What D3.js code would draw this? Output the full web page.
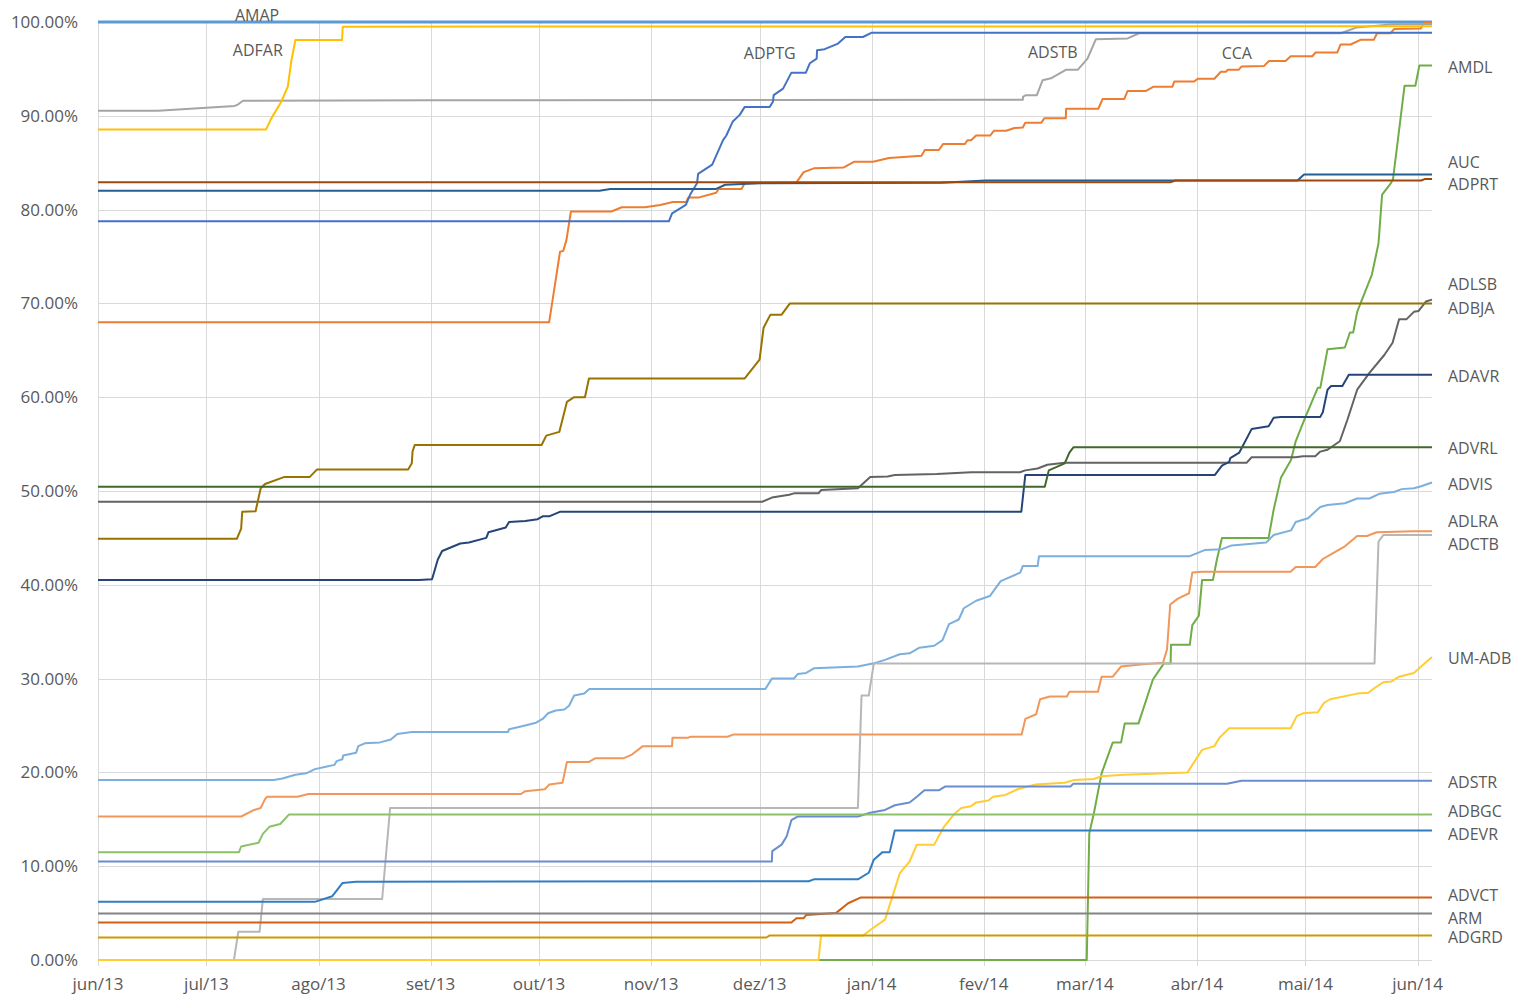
<!DOCTYPE html>
<html><head><meta charset="utf-8">
<script src="https://cdn.jsdelivr.net/npm/d3@7"></script>
<style>
body{margin:0;background:#fff}
svg text{font-family:"Open Sans",sans-serif;font-size:16px;fill:#595959}
svg text.tick{font-size:17px}
</style>
</head><body>
<svg id="chart" width="1528" height="999"></svg>
<script>
// ---------- DATA (x = days since 1 Jun 2013, y = percent) ----------
const startDate = new Date(2013, 5, 1);
const lastDay = 369;
const monthTickLabels = ["jun/13","jul/13","ago/13","set/13","out/13","nov/13","dez/13","jan/14","fev/14","mar/14","abr/14","mai/14","jun/14"];
const valueTicks = [0,10,20,30,40,50,60,70,80,90,100];

const seriesNames = ["AMAP","CCA","ADSTB","ADFAR","ADPTG","AMDL","AUC","ADPRT","ADLSB","ADBJA","ADAVR","ADVRL","ADVIS","ADLRA","ADCTB","UM-ADB","ADSTR","ADBGC","ADEVR","ADVCT","ARM","ADGRD"];

const AMAP = [[0,100],[369,100]];
const CCA = [[0,68],[124.8,68],[127.8,75.5],[128.7,75.6],[129.6,76.8],[130.8,79.8],[142,79.8],[144.9,80.25],[151.3,80.25],[155.5,80.5],[159,80.8],[162.7,80.8],[163.3,81.3],[166.3,81.3],[171,81.8],[171.7,82.2],[178,82.2],[178.9,82.8],[193.2,82.9],[195.2,84.0],[198,84.4],[206.3,84.5],[209.1,85.1],[214.4,85.1],[218.8,85.5],[227.8,85.75],[228.7,86.35],[232.6,86.35],[233.8,87.0],[239.8,87.0],[240.5,87.4],[241.5,87.4],[242.9,87.9],[246.8,87.9],[247.8,88.4],[251.2,88.4],[253.5,88.7],[255.8,88.75],[256.5,89.25],[260.9,89.25],[261.8,89.75],[267.7,89.75],[267.8,90.75],[276.7,90.75],[277.9,91.8],[283.9,91.8],[284.8,92.65],[289.9,92.65],[292,93.1],[297.2,93.1],[297.7,93.65],[303.2,93.65],[304.2,93.95],[308.8,93.95],[310.6,94.7],[312,94.7],[312.5,94.9],[315.5,94.9],[316.3,95.25],[322.5,95.3],[323.9,95.85],[328.5,95.85],[329.9,96.35],[335.9,96.35],[336.8,96.75],[342.8,96.75],[343.7,97.6],[346.5,97.6],[349.2,98.1],[352.9,98.1],[353.8,98.8],[357.5,98.8],[358.5,99.25],[365.9,99.3],[366.8,99.95],[369,99.95]];
const ADSTB = [[0,90.55],[16.6,90.55],[37.8,91.05],[38.7,91.2],[40.1,91.6],[92,91.65],[255.8,91.7],[255.9,92.05],[256.7,92.2],[259.7,92.2],[261.3,93.8],[263.6,94.0],[267.7,94.9],[271,94.9],[273.7,96.1],[276,98.15],[284.8,98.25],[288,98.8],[343.8,98.8],[348,99.4],[358,99.75],[369,99.8]];
const ADFAR = [[0,88.55],[46.5,88.55],[47.9,89.7],[50.7,91.5],[52.5,93.1],[53.5,95.9],[54.6,98.08],[67.5,98.08],[67.7,99.5],[369,99.55]];
const ADPTG = [[0,78.75],[157.9,78.75],[158.8,79.6],[162.6,80.5],[163.8,81.6],[165.7,82.8],[166,83.8],[169.9,84.8],[172.9,87.4],[173.8,87.9],[175.6,89.4],[177.5,90.1],[178.9,90.95],[185.8,90.95],[186.7,91.5],[186.9,92.2],[189.5,92.9],[191.8,94.6],[195.8,94.6],[196.9,95.6],[198.8,96.1],[198.9,97.0],[201,97.1],[204.7,97.7],[206.7,98.4],[211.6,98.4],[213.9,98.85],[369,98.85]];
const AMDL = [[0,0],[273.5,0],[274.2,13.5],[275.5,15.7],[277.6,19.9],[280.7,23.2],[283,23.2],[284,25.2],[287.8,25.2],[291.8,29.9],[294.8,31.6],[296.7,31.6],[296.8,33.6],[302,33.6],[302.7,35.7],[304.5,36.7],[305.4,40.5],[308.4,40.5],[309.5,42.7],[310.9,45],[323.8,45],[325.2,48],[327.2,51.4],[330,53.3],[331.3,55.3],[334,57.9],[337.4,61],[338.1,61],[340.1,65.1],[344.9,65.3],[346.3,66.9],[347.2,66.9],[348.3,69.1],[352.4,73.1],[354.2,76.4],[355.2,81.6],[357.6,82.8],[358.2,83.2],[360,88.8],[361.4,93.2],[364.4,93.2],[365.5,95.35],[369,95.35]];
const AUC = [[0,82.0],[138.7,82.0],[141.7,82.2],[171,82.2],[173.5,82.65],[183,82.8],[233.3,82.85],[245.6,83.1],[331.8,83.1],[333.6,83.75],[369,83.75]];
const ADPRT = [[0,82.92],[296.6,82.92],[298,83.1],[366,83.1],[367,83.25],[369,83.25]];
const ADLSB = [[0,48.85],[183.7,48.85],[186.4,49.3],[191.2,49.6],[192.5,49.75],[199.3,49.75],[200,50.1],[210.2,50.3],[213.6,51.5],[218.4,51.55],[220.4,51.7],[232,51.8],[241.5,52.0],[255,52.0],[256.5,52.2],[259.9,52.4],[262.6,52.8],[267.4,53.0],[317.7,53.0],[319.1,53.6],[331.3,53.6],[333.3,53.7],[336.7,53.7],[338.1,54.2],[340.1,54.4],[343.5,55.3],[345.6,57.6],[348.3,60.8],[351.7,62.6],[355.8,64.5],[358.1,65.8],[359.9,68.3],[361.9,68.3],[364,69.1],[365.3,69.2],[367.3,70.2],[369,70.4]];
const ADBJA = [[0,44.9],[38.4,44.9],[39.6,46],[39.9,47.8],[43.6,47.85],[45,50.3],[46.2,50.75],[51.6,51.5],[58.6,51.5],[60.6,52.3],[85.8,52.3],[86.8,52.95],[87,54.2],[87.6,54.9],[122.7,54.9],[124,55.9],[127.6,56.3],[129.7,59.5],[131.7,60],[134.7,60],[135.7,61.8],[135.8,62],[178.9,62],[183,64],[184.1,67.4],[186,68.8],[189.1,68.8],[191.4,70],[369,70]];
const ADAVR = [[0,40.5],[88.8,40.5],[92.4,40.6],[94,42.7],[95.2,43.6],[100.2,44.4],[102.6,44.5],[107.4,45],[108,45.6],[112.8,46.1],[113.7,46.7],[118.2,46.8],[121.6,47],[123,47.3],[124.8,47.3],[127.9,47.8],[255.4,47.8],[256.5,51.7],[308.9,51.7],[310.9,52.7],[312.9,53.1],[313.2,53.5],[315.7,54.1],[319.1,56.6],[323.8,56.9],[325.2,57.8],[327.2,57.9],[338.1,57.9],[338.8,58.4],[340.1,60.8],[341.1,61.2],[344.2,61.2],[346,62.4],[369,62.4]];
const ADVRL = [[0,50.45],[261.9,50.45],[263,52.2],[267.4,52.95],[268.7,54.1],[269.8,54.66],[369,54.66]];
const ADVIS = [[0,19.2],[48.6,19.2],[51,19.35],[54.6,19.75],[57.6,19.9],[60,20.35],[63,20.6],[65.4,20.8],[66,21.2],[67.6,21.4],[67.8,21.8],[71.4,22.1],[72,22.8],[73.8,23.1],[78,23.2],[81,23.5],[82.8,24.1],[86.8,24.3],[113.4,24.3],[113.7,24.6],[117,24.9],[121.2,25.3],[123,25.7],[124.5,26.3],[126.6,26.6],[129,26.7],[130.3,27.1],[131.7,28.2],[134.5,28.4],[135.9,28.9],[184.6,28.9],[186.4,30],[192.5,30],[193.6,30.5],[195.9,30.6],[198,31.1],[210.2,31.3],[214.3,31.6],[217.7,32],[221.8,32.6],[224.5,32.7],[227.2,33.3],[231.3,33.5],[233.6,34.1],[235.4,35.8],[238.1,36.3],[239.5,37.5],[242.9,38.3],[246.7,38.8],[249.7,40.4],[255.1,41.3],[255.8,42],[259.9,42],[260.3,43.05],[302,43.05],[306.1,43.7],[310.9,43.8],[313.6,44.2],[323.1,44.5],[325.2,45.3],[330,45.8],[331.3,46.7],[334.7,47.1],[338.1,48.3],[340.1,48.5],[344.9,48.7],[348.3,49.2],[351.7,49.2],[354.4,49.7],[358.5,49.9],[360.6,50.2],[364,50.3],[366,50.5],[369,50.9]];
const ADLRA = [[0,15.3],[39.6,15.3],[43.2,16],[45,16.2],[46.2,17.15],[46.8,17.4],[55.2,17.4],[58.2,17.7],[117,17.7],[118.2,18],[123.6,18.2],[124.8,18.7],[128.5,18.9],[129.7,21.1],[135.7,21.1],[137.5,21.5],[145.3,21.5],[147.7,21.9],[150.7,22.8],[158.8,22.8],[158.9,23.7],[163.3,23.7],[163.9,23.8],[174.1,23.8],[175.9,24.05],[255.5,24.05],[256.5,25.7],[259.5,26.2],[260.6,27.8],[263.3,28.1],[268,28.1],[268.7,28.6],[276.6,28.6],[277.6,30.2],[280.7,30.2],[283,31.3],[288.4,31.5],[294.6,31.7],[295.7,33.1],[296.6,37.9],[298.6,38.5],[301.8,39.1],[302.7,41.3],[305.4,41.4],[329.9,41.4],[331.3,41.9],[336.7,41.9],[338.8,42.75],[340.8,43.2],[344.9,44.1],[348.3,45.2],[351,45.2],[353.7,45.6],[364,45.7],[369,45.7]];
const ADCTB = [[0,0],[37.6,0],[38.8,3.0],[44.7,3.0],[45.6,6.5],[78.6,6.5],[80.8,16.2],[210.2,16.2],[211.2,28.2],[213.2,28.2],[214.6,31.6],[353.1,31.6],[354.2,44.6],[355.5,45.3],[369,45.3]];
const UM_ADB = [[0,0],[199.3,0],[200,2.6],[211.6,2.6],[213.6,3.2],[217.7,4.3],[221.8,9.25],[224.5,10.5],[226.5,12.3],[231.3,12.3],[234,14.2],[236.7,15.5],[238.8,16.2],[241.5,16.4],[242.9,16.8],[246.3,17],[247.6,17.4],[251,17.6],[254.4,18.2],[259.2,18.7],[267.4,18.9],[270.1,19.2],[275.5,19.3],[277.6,19.6],[283.7,19.75],[291.8,19.85],[301.4,20],[302.7,20.8],[305.4,22.4],[308.8,22.8],[310.2,23.7],[312.9,24.7],[329.9,24.7],[331.6,26],[333.3,26.3],[337.4,26.4],[339.1,27.4],[340.8,27.8],[348.3,28.4],[351.4,28.5],[353.1,29],[355.5,29.6],[357.8,29.7],[359.9,30.2],[364,30.6],[366,31.3],[369,32.3]];
const ADSTR = [[0,10.5],[186.4,10.5],[186.5,11.6],[189.1,12.3],[190.5,13.2],[191.8,14.9],[193.6,15.3],[210.2,15.3],[213.6,15.7],[217.7,16],[220.4,16.5],[224.5,16.8],[226.5,17.4],[228.6,18.1],[232.7,18.1],[234.4,18.5],[269,18.5],[269.8,18.8],[312.3,18.8],[316.3,19.1],[369,19.1]];
const ADBGC = [[0,11.5],[39,11.5],[39.6,12.1],[44.4,12.5],[45.6,13.45],[47.4,14.2],[50.4,14.5],[52.8,15.5],[369,15.5]];
const ADEVR = [[0,6.2],[60,6.2],[64.8,6.8],[66,7.4],[67.6,8.2],[71.4,8.35],[196.6,8.4],[198,8.6],[210.2,8.6],[213.2,9.3],[214.6,10.7],[217,11.5],[219,11.5],[220.4,13.8],[369,13.8]];
const ADVCT = [[0,4.0],[191.8,4.0],[193.2,4.45],[195.2,4.45],[195.9,4.8],[204.1,5.0],[207.5,6.05],[210.9,6.65],[369,6.65]];
const ARM = [[0,4.95],[369,4.95]];
const ADGRD = [[0,2.4],[184.9,2.4],[185.7,2.6],[369,2.6]];

const seriesValues = [AMAP,CCA,ADSTB,ADFAR,ADPTG,AMDL,AUC,ADPRT,ADLSB,ADBJA,ADAVR,ADVRL,ADVIS,ADLRA,ADCTB,UM_ADB,ADSTR,ADBGC,ADEVR,ADVCT,ARM,ADGRD];

// labels drawn inside the plot (anchor day, anchor value)
const topLabelNames = ["AMAP","ADFAR","ADPTG","ADSTB","CCA"];
const topLabelDays = [44.0,44.2,185.8,264.1,315.0];
const topLabelValues = [100.75,97.0,96.7,96.8,96.7];
// series with an end label on the right
const endLabelNames = ["AMDL","AUC","ADPRT","ADLSB","ADBJA","ADAVR","ADVRL","ADVIS","ADLRA","ADCTB","UM-ADB","ADSTR","ADBGC","ADEVR","ADVCT","ARM","ADGRD"];

// ---------- STYLE ----------
const seriesColors = ["#5B9BD5","#ED7D31","#A5A5A5","#FFC000","#4472C4","#70AD47","#255E91","#9E480E","#636363","#997300","#264478","#43682B","#7CAFDD","#F1975A","#B7B7B7","#FFCD33","#698ED0","#8CC168","#327DC2","#D26012","#848484","#CC9A00"];
const endLabelNudge = {"AUC":-14,"ADPRT":3.4,"ADLSB":-17,"ADBJA":3,"ADLRA":-11.8,"ADCTB":7.4,"ADBGC":-4.5,"ADEVR":2,"ADVCT":-3.5,"ARM":3};

// ---------- CHART ----------
const dayToDate = d => new Date(startDate.getTime() + d * 864e5);
const svg = d3.select("#chart");
const plotLeft = 98, plotRight = 1432, plotTop = 22, plotBottom = 960;
const x = d3.scaleTime().domain([startDate, dayToDate(lastDay)]).range([plotLeft, plotRight]);
const y = d3.scaleLinear().domain([0, 100]).range([plotBottom, plotTop]);

const monthDates = d3.timeMonth.range(startDate, new Date(2014, 5, 2));

// gridlines
svg.append("g").selectAll("line").data(valueTicks).join("line")
  .attr("x1", plotLeft).attr("x2", plotRight)
  .attr("y1", d => Math.round(y(d)) + 0.5).attr("y2", d => Math.round(y(d)) + 0.5)
  .attr("stroke", "#D9D9D9").attr("stroke-width", 1);
svg.append("g").selectAll("line").data(monthDates).join("line")
  .attr("x1", d => Math.round(x(d)) + 0.5).attr("x2", d => Math.round(x(d)) + 0.5)
  .attr("y1", plotTop).attr("y2", plotBottom + 6)
  .attr("stroke", "#D9D9D9").attr("stroke-width", 1);

// axes labels
const fmt = d3.format(".2%");
svg.append("g").selectAll("text").data(valueTicks).join("text")
  .attr("class", "tick")
  .attr("x", 78).attr("y", d => y(d)).attr("dy", "0.35em")
  .attr("text-anchor", "end").text(d => fmt(d / 100));
svg.append("g").selectAll("text").data(monthDates).join("text")
  .attr("class", "tick")
  .attr("x", d => x(d)).attr("y", 984).attr("dy", "0.35em")
  .attr("text-anchor", "middle").text((d, i) => monthTickLabels[i]);

// lines
const line = d3.line().x(d => x(dayToDate(d[0]))).y(d => y(d[1]));
svg.append("g").selectAll("path").data(seriesValues).join("path")
  .attr("d", line).attr("fill", "none")
  .attr("stroke", (d, i) => seriesColors[i])
  .attr("stroke-width", (d, i) => seriesNames[i] === "AMAP" ? 3 : 2)
  .attr("stroke-linejoin", "round");

// top labels
svg.append("g").selectAll("text").data(topLabelNames).join("text")
  .attr("x", (d, i) => x(dayToDate(topLabelDays[i])))
  .attr("y", (d, i) => y(topLabelValues[i])).attr("dy", "0.35em")
  .attr("text-anchor", "middle").text(d => d);

// end labels
svg.append("g").selectAll("text").data(endLabelNames).join("text")
  .attr("x", plotRight + 16)
  .attr("y", d => {
    const vals = seriesValues[seriesNames.indexOf(d)];
    return y(vals[vals.length - 1][1]) + 1.5 + (endLabelNudge[d] || 0);
  })
  .attr("dy", "0.35em").text(d => d);
</script>
</body></html>
